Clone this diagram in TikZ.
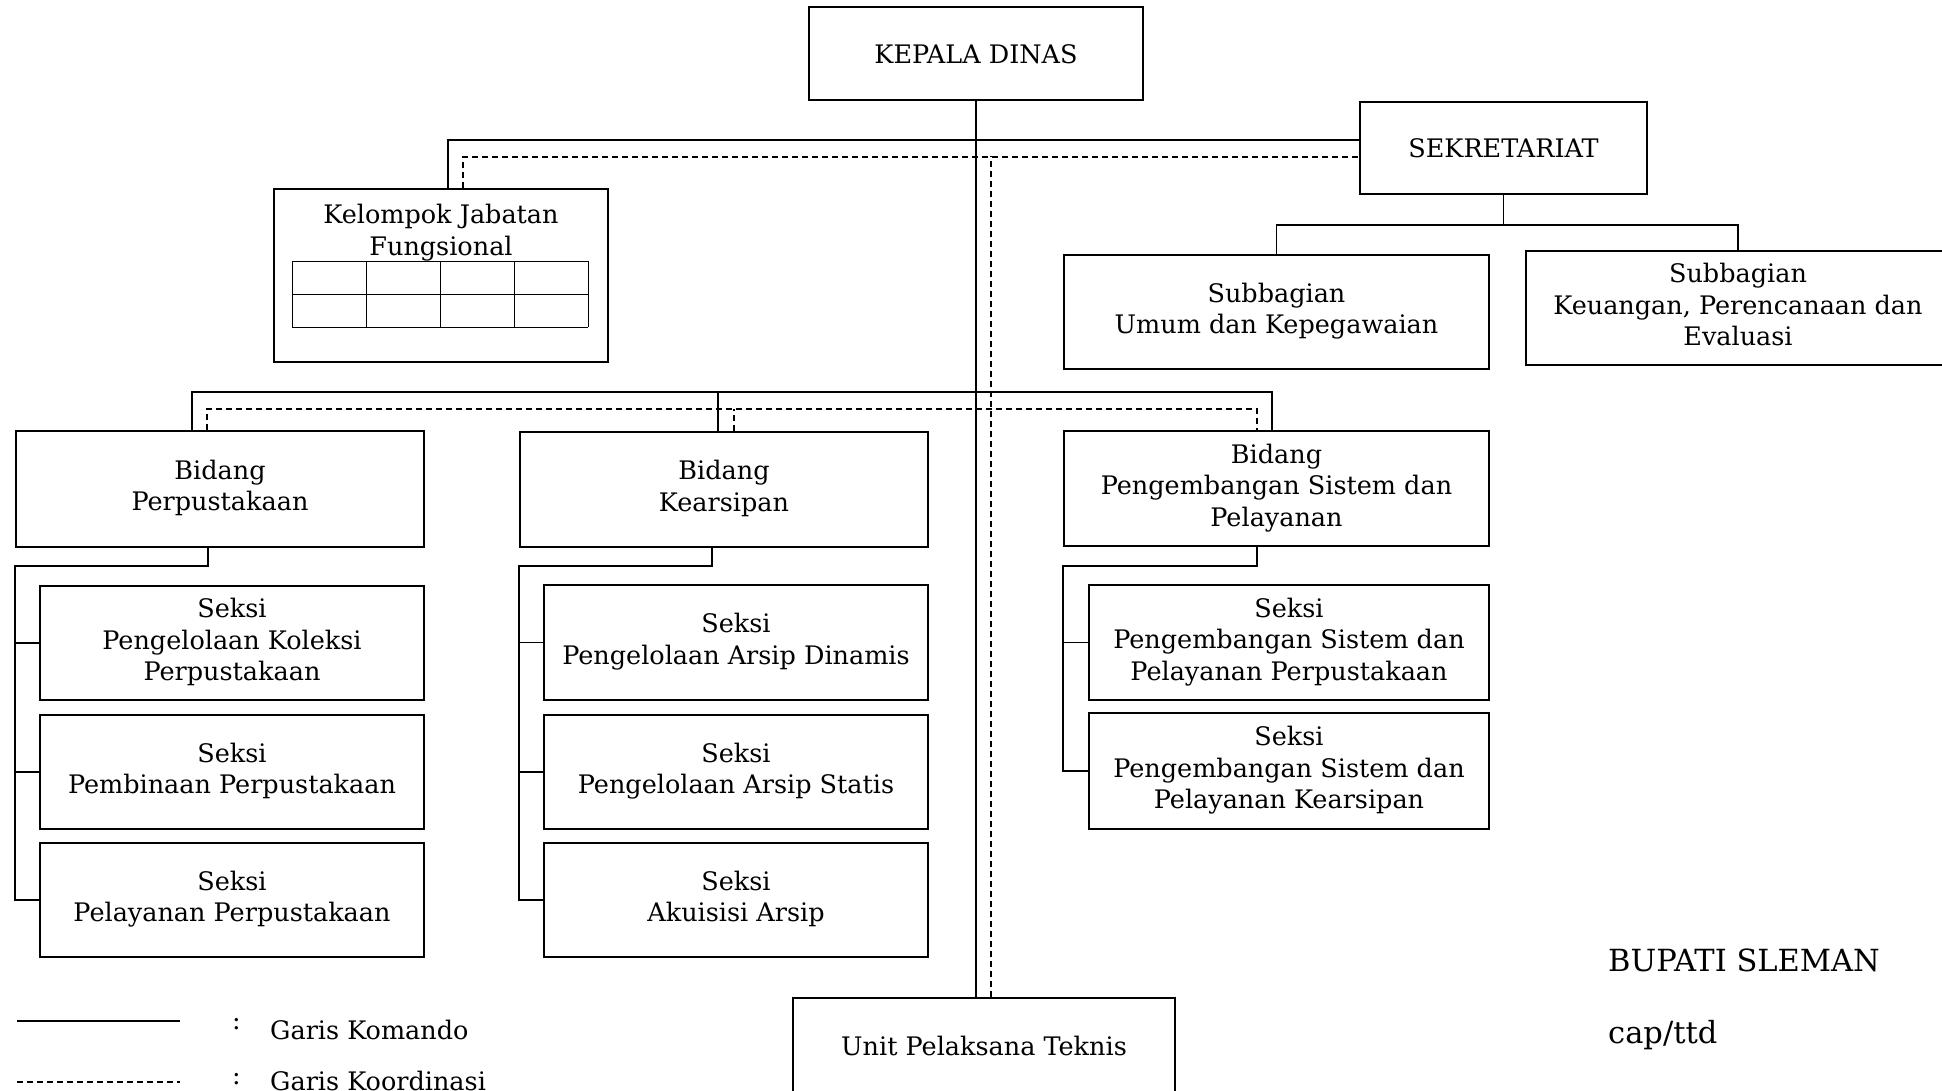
\documentclass[tikz,border=0pt]{standalone}
\usepackage{fontspec}
\setmainfont{DejaVu Serif}
\newcommand\boxfont{\fontsize{25.5}{31.5}\selectfont}
\newcommand\signfont{\fontsize{30.5}{36}\selectfont}
\tikzset{unit box/.style={rectangle,draw,line width=1.8pt,align=center,inner sep=0pt,font=\boxfont,
           execute at begin node={\rule{0pt}{26pt}},execute at end node={\rule[-7pt]{0pt}{7pt}}},
         komando/.style={line width=1.8pt},
         koord/.style={line width=1.4pt,dash pattern=on 6pt off 4pt},
         plain text/.style={inner sep=0pt,anchor=west,font=\boxfont},
}

\begin{document}
\begin{tikzpicture}[x=1pt,y=-1pt]
\useasboundingbox (0,0) rectangle (1942,1090);
% \draw[help lines] (0,0) grid[step=100] (1942,1090);

\node[unit box,minimum width=334,minimum height=93] (kd) at (976,53.5) {KEPALA DINAS};
\node[unit box,minimum width=287,minimum height=92] (sekr) at (1503.5,148) {SEKRETARIAT};
\node[unit box,minimum width=425,minimum height=114] (sbu) at (1276.5,312) {Subbagian\\Umum dan Kepegawaian};
\node[unit box,minimum width=424,minimum height=114] (sbk) at (1738,308) {Subbagian\\Keuangan, Perencanaan dan\\Evaluasi};

\node[unit box,minimum width=334,minimum height=173] (kjf) at (441,275.5) {};
\node[inner sep=0pt,align=center,font=\boxfont] (kjft) at (441,232.5) {Kelompok Jabatan\\Fungsional};
\foreach \i in {0,...,4} \draw[line width=1pt] (292+74*\i,261) -- (292+74*\i,327);
\foreach \j in {0,1,2} \draw[line width=1pt] (292,261+33*\j) -- (588,261+33*\j);

\node[unit box,minimum width=408,minimum height=116] (bp) at (220,489) {Bidang\\Perpustakaan};
\node[unit box,minimum width=408,minimum height=115] (bk) at (724,489.5) {Bidang\\Kearsipan};
\node[unit box,minimum width=425,minimum height=115] (bpsp) at (1276.5,488.5) {Bidang\\Pengembangan Sistem dan\\Pelayanan};

\node[unit box,minimum width=384,minimum height=114] (sp1) at (232,643) {Seksi\\Pengelolaan Koleksi\\Perpustakaan};
\node[unit box,minimum width=384,minimum height=114] (sp2) at (232,772) {Seksi\\Pembinaan Perpustakaan};
\node[unit box,minimum width=384,minimum height=114] (sp3) at (232,900) {Seksi\\Pelayanan Perpustakaan};

\node[unit box,minimum width=384,minimum height=115] (sk1) at (736,642.5) {Seksi\\Pengelolaan Arsip Dinamis};
\node[unit box,minimum width=384,minimum height=114] (sk2) at (736,772) {Seksi\\Pengelolaan Arsip Statis};
\node[unit box,minimum width=384,minimum height=114] (sk3) at (736,900) {Seksi\\Akuisisi Arsip};

\node[unit box,minimum width=400,minimum height=115] (ss1) at (1289,642.5) {Seksi\\Pengembangan Sistem dan\\Pelayanan Perpustakaan};
\node[unit box,minimum width=400,minimum height=116] (ss2) at (1289,771) {Seksi\\Pengembangan Sistem dan\\Pelayanan Kearsipan};

\node[unit box,minimum width=382,minimum height=96] (upt) at (984,1046) {Unit Pelaksana Teknis};

% garis komando
\draw[komando] (kd.south) -- (kd.south |- upt.north);
\draw[komando] ([xshift=7]kjf.north) |- ([yshift=8]sekr.west);
\draw[komando] (sekr.south) -- ++(0,30) -| (sbu.north);
\draw[komando] (sekr.south) ++(0,30) -| (sbk.north);
\draw[komando] ([xshift=-28]bp.north) -- ++(0,-38) -| ([xshift=-4.5]bpsp.north);
\draw[komando] ([xshift=-6]bk.north) -- ++(0,-39);

\draw[komando] ([xshift=-12]bp.south) -- ++(0,18) -| ([xshift=-24]sp3.west) -- (sp3.west);
\draw[komando] (sp1.west) -- ++(-24,0);
\draw[komando] (sp2.west) -- ++(-24,0);
\draw[komando] ([xshift=-12]bk.south) -- ++(0,18) -| ([xshift=-24]sk3.west) -- (sk3.west);
\draw[komando] (sk1.west) -- ++(-24,0);
\draw[komando] (sk2.west) -- ++(-24,0);
\draw[komando] ([xshift=-19.5]bpsp.south) -- ++(0,19) -| ([xshift=-25]ss2.west) -- (ss2.west);
\draw[komando] (ss1.west) -- ++(-25,0);

% garis koordinasi
\draw[koord] ([xshift=22]kjf.north) |- ([yshift=-9]sekr.west);
\draw[koord] ([xshift=7]upt.north) -- ++(0,-841);
\draw[koord] ([xshift=-13]bp.north) -- ++(0,-21) -| ([xshift=-19.5]bpsp.north);
\draw[koord] ([xshift=10]bk.north) -- ++(0,-22);

% keterangan
\coordinate (lk1) at (17,1021);
\coordinate (lk2) at (180,1021);
\coordinate (ld1) at (17,1082);
\coordinate (ld2) at (180,1082);
\draw[komando] (lk1) -- (lk2);
\draw[koord] (ld1) -- (ld2);
\node[plain text] (c1) at (232,1024) {:};
\node[plain text] (c2) at (232,1079) {:};
\node[plain text] (gk) at (270,1030) {Garis Komando};
\node[plain text] (gd) at (270,1081) {Garis Koordinasi};

\node[plain text,font=\signfont] (bs) at (1608,960) {BUPATI SLEMAN};
\node[plain text,font=\signfont] (ct) at (1608,1035) {cap/ttd};
\end{tikzpicture}
\end{document}
